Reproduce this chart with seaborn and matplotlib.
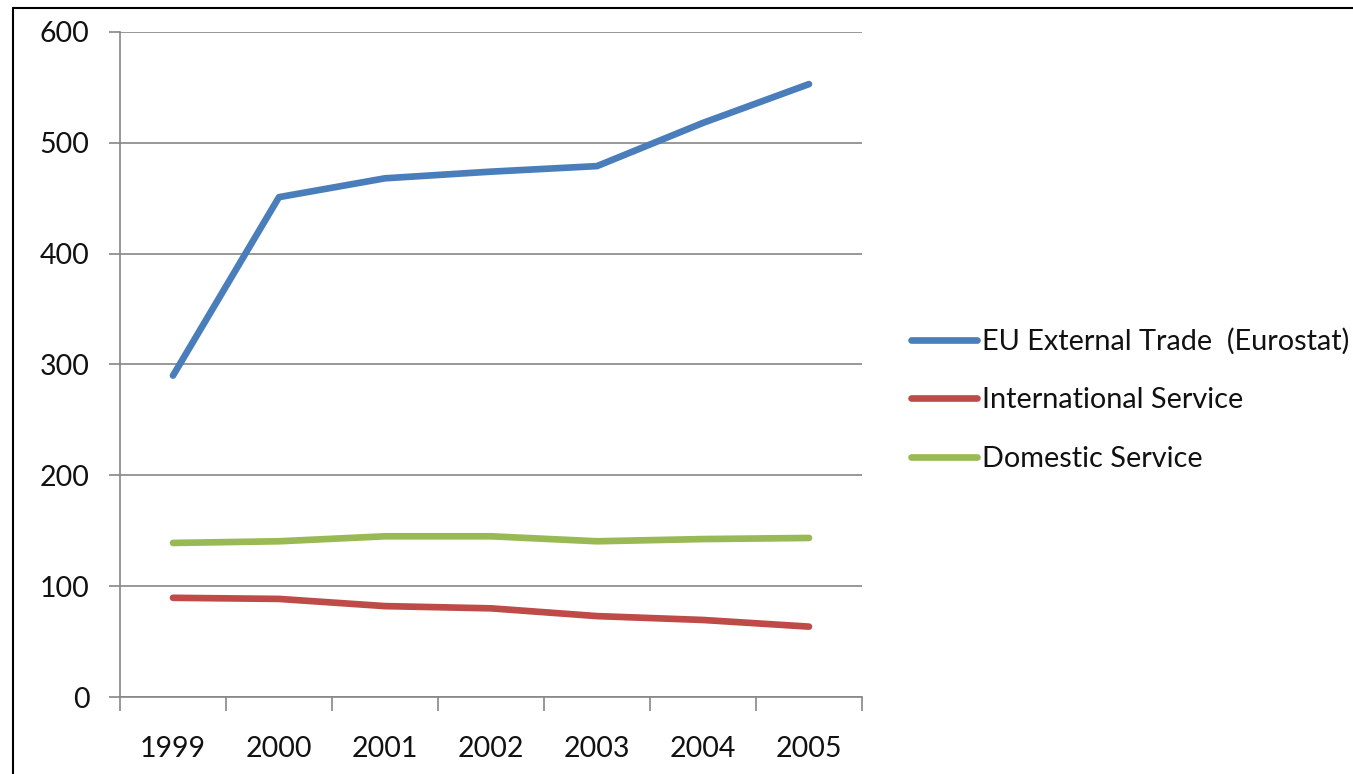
import matplotlib
matplotlib.use("Agg")
import matplotlib.pyplot as plt
from matplotlib.lines import Line2D
import seaborn as sns
import pandas as pd

years = ["1999", "2000", "2001", "2002", "2003", "2004", "2005"]
eu_external = [290, 451, 468, 474, 479, 518, 553]
international = [89.5, 88.5, 82, 80, 73, 69.5, 63.5]
domestic = [139, 140.5, 145, 145, 140.5, 142.5, 143.5]
series_names = ["EU External Trade  (Eurostat)", "International Service", "Domestic Service"]
colors = ["#4A7EBB", "#BE4B48", "#98B954"]

rows = []
for name, vals in zip(series_names, [eu_external, international, domestic]):
    for i, (y, v) in enumerate(zip(years, vals)):
        rows.append({"pos": i, "Year": y, "Value": v, "Series": name})
df = pd.DataFrame(rows)

sns.set_theme(style="white")
plt.rcParams["font.family"] = ["Lato", "DejaVu Sans"]

fig = plt.figure(figsize=(13.53, 7.74), dpi=100)
ax = fig.add_axes([120/1353, 1-697/774, (862-120)/1353, (697-32)/774])

sns.lineplot(data=df, x="pos", y="Value", hue="Series", palette=colors,
             hue_order=series_names, linewidth=4.8, ax=ax, legend=False,
             solid_capstyle="round")

grid_c = "#868686"
ax.set_ylim(0, 600)
ax.set_xlim(-0.5, len(years) - 0.5)
ax.set_yticks(range(0, 601, 100))
ax.yaxis.grid(True, color=grid_c, linewidth=1.2)
ax.xaxis.grid(False)
ax.set_axisbelow(True)

ax.set_xticks([i - 0.5 for i in range(len(years) + 1)])
ax.set_xticklabels([])
ax.set_xticks(range(len(years)), minor=True)
ax.set_xticklabels(years, minor=True)
ax.tick_params(axis="x", which="major", length=10, width=1.2, color=grid_c, direction="out", bottom=True)
ax.tick_params(axis="x", which="minor", length=0, pad=28, labelsize=20.5, labelcolor="#111111")
ax.tick_params(axis="y", length=8, width=1.2, color=grid_c, direction="out", left=True,
               pad=14, labelsize=20.5, labelcolor="#111111")

for s in ["top", "right"]:
    ax.spines[s].set_visible(False)
for s in ["left", "bottom"]:
    ax.spines[s].set_color(grid_c)
    ax.spines[s].set_linewidth(1.2)
ax.set_xlabel("")
ax.set_ylabel("")

handles = [Line2D([0], [0], color=c, linewidth=4.8, solid_capstyle="round") for c in colors]
fig.legend(handles, series_names, loc="center left", bbox_to_anchor=(885/1353, 1-400/774),
           frameon=False, fontsize=20.8, handlelength=2.3, handletextpad=0.15,
           labelspacing=1.13, labelcolor="#111111")

fig.add_artist(Line2D([13/1353, 13/1353], [0, 1-8/774], transform=fig.transFigure, color="black", linewidth=1.5))
fig.add_artist(Line2D([13/1353, 1], [1-8/774, 1-8/774], transform=fig.transFigure, color="black", linewidth=1.5))

fig.savefig("out.png", dpi=100, facecolor="white")
